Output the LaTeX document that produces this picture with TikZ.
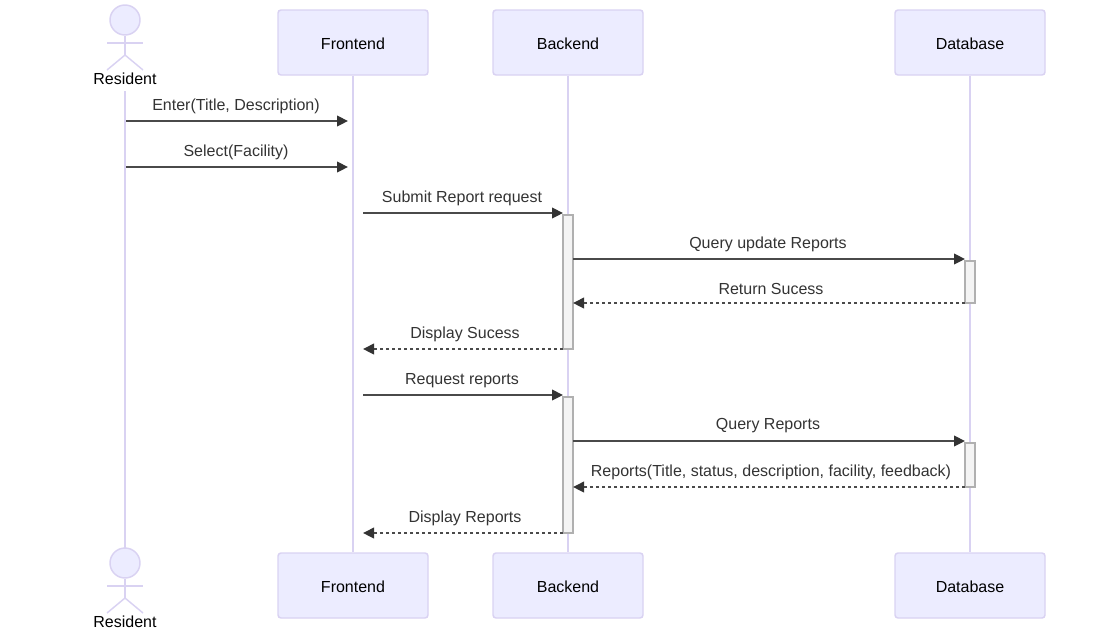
\documentclass[tikz,border=0pt]{standalone}
\usepackage{fontspec}
\setmainfont{Liberation Sans}
\usetikzlibrary{arrows.meta}
\definecolor{actorfill}{HTML}{ECECFF}
\definecolor{actorline}{HTML}{D9D2F2}
\definecolor{msgline}{HTML}{4A4A4A}
\definecolor{msghead}{HTML}{333333}
\definecolor{msgtext}{HTML}{333333}
\definecolor{actfill}{HTML}{F4F4F4}
\definecolor{actdraw}{HTML}{B0B0B0}
\tikzset{
  actorbox/.style={draw=actorline,fill=actorfill,line width=1.1pt,rounded corners=2.25pt,minimum width=112.5pt,minimum height=48.75pt,inner sep=0pt,text height=10.2pt,text depth=0pt,font=\fontsize{12}{14}\selectfont,text=black},
  lifeline/.style={draw=actorline,line width=1.5pt},
  stick/.style={draw=actorline,line width=1.1pt},
  headc/.style={draw=actorline,fill=actorfill,line width=1.1pt,circle,minimum size=22.5pt,inner sep=0pt},
  actorname/.style={inner sep=0pt,font=\fontsize{12}{14}\selectfont,text=black},
  activation/.style={draw=actdraw,fill=actfill,line width=0.8pt,minimum width=7.5pt,inner sep=0pt},
  msg/.style={draw=msgline,line width=1.1pt,-{Triangle[length=8.25pt,width=8pt,color=msghead]}},
  reply/.style={msg,dash pattern=on 2.25pt off 2.25pt},
  msglabel/.style={inner sep=0pt,font=\fontsize{12}{14}\selectfont,text=msgtext},
}
\begin{document}
\begin{tikzpicture}[x=0.75pt,y=-0.75pt]
\useasboundingbox (0,0) rectangle (1095,629);
\coordinate (resTop) at (125,91);
\coordinate (resBot) at (125,548);
\node[actorbox] (feTop) at (353,42.5) {Frontend};
\node[actorbox] (beTop) at (568,42.5) {Backend};
\node[actorbox] (dbTop) at (970,42.5) {Database};
\node[actorbox] (feBot) at (353,585.5) {Frontend};
\node[actorbox] (beBot) at (568,585.5) {Backend};
\node[actorbox] (dbBot) at (970,585.5) {Database};
\draw[lifeline] (resTop) -- (resBot);
\draw[lifeline] (feTop.south) -- (feBot.north);
\draw[lifeline] (beTop.south) -- (beBot.north);
\draw[lifeline] (dbTop.south) -- (dbBot.north);
% actors
\node[headc] (headTop) at (125,20) {};
\coordinate (hipTop) at (125,55);
\coordinate (armLTop) at (107,43);
\coordinate (armRTop) at (143,43);
\coordinate (footLTop) at (107,70);
\coordinate (footRTop) at (143,70);
\draw[stick] (headTop.south) -- (hipTop);
\draw[stick] (armLTop) -- (armRTop);
\draw[stick] (footLTop) -- (hipTop) -- (footRTop);
\node[actorname] (nameTop) at (125,79) {Resident};
\node[headc] (headBot) at (125,563) {};
\coordinate (hipBot) at (125,598);
\coordinate (armLBot) at (107,586);
\coordinate (armRBot) at (143,586);
\coordinate (footLBot) at (107,613);
\coordinate (footRBot) at (143,613);
\draw[stick] (headBot.south) -- (hipBot);
\draw[stick] (armLBot) -- (armRBot);
\draw[stick] (footLBot) -- (hipBot) -- (footRBot);
\node[actorname] (nameBot) at (125,622) {Resident};
% activations
\node[activation,minimum height=100.5pt] (a1) at (568,282) {};
\node[activation,minimum height=31.5pt] (a2) at (970,282) {};
\node[activation,minimum height=102pt] (a3) at (568,465) {};
\node[activation,minimum height=33pt] (a4) at (970,465) {};
% message ends
\coordinate (m1s) at (126,121); \coordinate (m1e) at (348,121);
\coordinate (m2s) at (126,167); \coordinate (m2e) at (348,167);
\coordinate (m3s) at (363,213); \coordinate (m3e) at (563,213);
\coordinate (m4s) at (573,259); \coordinate (m4e) at (965,259);
\coordinate (m5s) at (965,303); \coordinate (m5e) at (573,303);
\coordinate (m6s) at (563,349); \coordinate (m6e) at (363,349);
\coordinate (m7s) at (363,395); \coordinate (m7e) at (563,395);
\coordinate (m8s) at (573,441); \coordinate (m8e) at (965,441);
\coordinate (m9s) at (965,487); \coordinate (m9e) at (573,487);
\coordinate (m10s) at (563,533); \coordinate (m10e) at (363,533);
\draw[msg] (m1s) -- (m1e);
\draw[msg] (m2s) -- (m2e);
\draw[msg] (m3s) -- (m3e);
\draw[msg] (m4s) -- (m4e);
\draw[reply] (m5s) -- (m5e);
\draw[reply] (m6s) -- (m6e);
\draw[msg] (m7s) -- (m7e);
\draw[msg] (m8s) -- (m8e);
\draw[reply] (m9s) -- (m9e);
\draw[reply] (m10s) -- (m10e);
% labels
\node[msglabel] (l1) at (236,106) {Enter(Title, Description)};
\node[msglabel] (l2) at (236,152) {Select(Facility)};
\node[msglabel] (l3) at (462,198) {Submit Report request};
\node[msglabel] (l4) at (768,244) {Query update Reports};
\node[msglabel] (l5) at (771,289) {Return Sucess};
\node[msglabel] (l6) at (465,334) {Display Sucess};
\node[msglabel] (l7) at (462,381) {Request reports};
\node[msglabel] (l8) at (768,426) {Query Reports};
\node[msglabel] (l9) at (771,472) {Reports(Title, status, description, facility, feedback)};
\node[msglabel] (l10) at (465,518) {Display Reports};
\end{tikzpicture}
\end{document}
